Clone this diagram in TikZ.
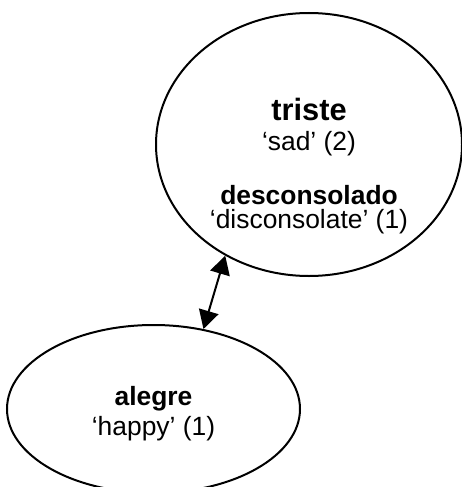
\documentclass[tikz,border=0pt]{standalone}
\usepackage{fontspec}
\setmainfont{Liberation Sans}
\usetikzlibrary{arrows.meta,shapes.geometric}
\begin{document}
\begin{tikzpicture}[x=1pt,y=1pt,
  oval/.style={draw=black, line width=2pt, ellipse, inner sep=0pt},
  lbl/.style={anchor=base, inner sep=0pt, font=\fontsize{26.4}{30}\selectfont},
  bigt/.style={anchor=base, inner sep=0pt, font=\fontsize{30.8}{34}\selectfont\bfseries},
  bold/.style={anchor=base, inner sep=0pt, font=\fontsize{26.4}{30}\selectfont\bfseries},
  link/.style={line width=2pt, {Triangle[length=18.5pt,width=20pt]}-{Triangle[length=18.5pt,width=20pt]}, shorten <=0pt, shorten >=0pt}]
\useasboundingbox (0,0) rectangle (462,-487);
\node[oval, minimum width=306pt, minimum height=263pt] (big) at (309,-144.5) {};
\node[oval, minimum width=293pt, minimum height=168pt] (small) at (153.5,-409) {};
\node[bigt] (t1) at (309,-120) {triste};
\node[lbl] (t2) at (309,-150) {‘sad’ (2)};
\node[bold] (t3) at (309,-204) {desconsolado};
\node[lbl] (t4) at (309,-228) {‘disconsolate’ (1)};
\node[bold] (s1) at (153.5,-405) {alegre};
\node[lbl] (s2) at (153.5,-435) {‘happy’ (1)};
\draw[link] (small.58.9) -- (big.233.4);
\end{tikzpicture}
\end{document}
